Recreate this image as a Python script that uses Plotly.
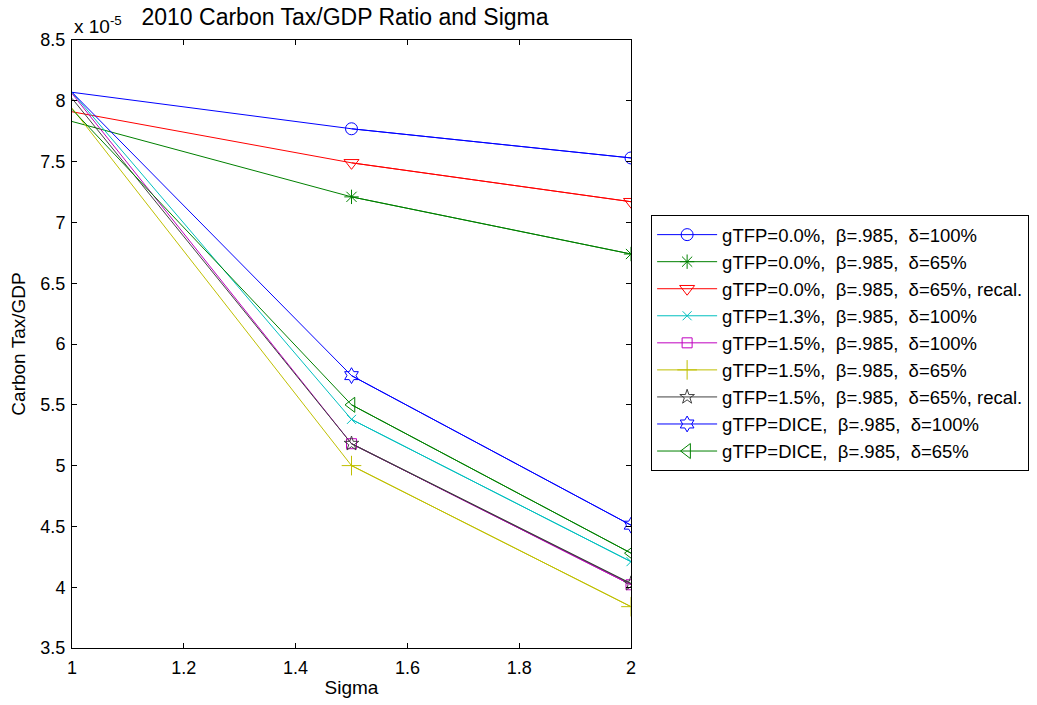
import plotly.graph_objects as go

# Sigma values (x axis)
sigma = [1.0, 1.5, 2.0]

# Carbon Tax/GDP values, in units of 1e-5
names = [
    "gTFP=0.0%,  β=.985,  δ=100%",
    "gTFP=0.0%,  β=.985,  δ=65%",
    "gTFP=0.0%,  β=.985,  δ=65%, recal.",
    "gTFP=1.3%,  β=.985,  δ=100%",
    "gTFP=1.5%,  β=.985,  δ=100%",
    "gTFP=1.5%,  β=.985,  δ=65%",
    "gTFP=1.5%,  β=.985,  δ=65%, recal.",
    "gTFP=DICE,  β=.985,  δ=100%",
    "gTFP=DICE,  β=.985,  δ=65%",
]
g00_b985_d100 = [8.07, 7.77, 7.53]
g00_b985_d65 = [7.83, 7.21, 6.74]
g00_b985_d65_recal = [7.91, 7.49, 7.17]
g13_b985_d100 = [8.07, 5.38, 4.21]
g15_b985_d100 = [8.06, 5.18, 4.02]
g15_b985_d65 = [7.94, 5.00, 3.84]
g15_b985_d65_recal = [8.02, 5.18, 4.03]
gDICE_b985_d100 = [8.07, 5.74, 4.51]
gDICE_b985_d65 = [7.93, 5.50, 4.28]
series = [g00_b985_d100, g00_b985_d65, g00_b985_d65_recal, g13_b985_d100,
          g15_b985_d100, g15_b985_d65, g15_b985_d65_recal, gDICE_b985_d100,
          gDICE_b985_d65]

colors = ["#0000FF", "#008000", "#FF0000", "#00BFBF", "#BF00BF",
          "#BFBF00", "#404040", "#0000FF", "#008000"]
symbols = ["circle-open", "asterisk-open", "triangle-down-open", "x-thin-open",
           "square-open", "cross-thin-open", "star-open", "hexagram-open",
           "triangle-left-open"]
sizes = [12, 12, 13, 9, 10, 14, 11, 12, 13]

yticks = [3.5, 4, 4.5, 5, 5.5, 6, 6.5, 7, 7.5, 8, 8.5]
ytick_labels = ["3.5", "4", "4.5", "5", "5.5", "6", "6.5", "7", "7.5", "8", "8.5"]
xticks = [1, 1.2, 1.4, 1.6, 1.8, 2]
xtick_labels = ["1", "1.2", "1.4", "1.6", "1.8", "2"]

FONT = "Liberation Sans, Arial, sans-serif"

fig = go.Figure()
for i, (nm, ys) in enumerate(zip(names, series)):
    grp = f"g{i}"
    fig.add_trace(go.Scatter(
        x=sigma, y=ys, mode="lines", legendgroup=grp, showlegend=False,
        line=dict(color=colors[i], width=1), hoverinfo="skip"))
    fig.add_trace(go.Scatter(
        x=sigma[1:], y=ys[1:], mode="lines+markers", name=nm, legendgroup=grp,
        line=dict(color=colors[i], width=1),
        marker=dict(symbol=symbols[i], size=sizes[i],
                    line=dict(color=colors[i], width=1), color=colors[i])))

axis_common = dict(showline=True, linecolor="black", linewidth=1, mirror="ticks",
                   ticks="inside", ticklen=5, tickcolor="black", showgrid=False,
                   zeroline=False, tickfont=dict(family=FONT, size=18, color="black"))

fig.update_xaxes(range=[1, 2], tickvals=xticks, ticktext=xtick_labels,
                 ticklabelstandoff=3,
                 title=dict(text="Sigma", font=dict(family=FONT, size=19, color="black"),
                            standoff=4),
                 **axis_common)
fig.update_yaxes(range=[3.5, 8.5], tickvals=yticks, ticktext=ytick_labels,
                 ticklabelstandoff=2,
                 title=dict(text="Carbon Tax/GDP", font=dict(family=FONT, size=19, color="black"),
                            standoff=9),
                 **axis_common)

fig.update_layout(
    width=1037, height=705,
    margin=dict(l=72, r=406, t=40, b=57, autoexpand=False),
    paper_bgcolor="white", plot_bgcolor="white",
    font=dict(family=FONT, color="black"),
    title=dict(text="2010 Carbon Tax/GDP Ratio and Sigma", x=345 / 1037,
               xanchor="center", y=1 - 17 / 705, yanchor="middle",
               font=dict(family=FONT, size=23, color="black")),
    legend=dict(x=1.036, y=0.712, xanchor="left", yanchor="top",
                bordercolor="black", borderwidth=1, bgcolor="white",
                font=dict(family=FONT, size=18.5, color="black"),
                tracegroupgap=0, itemwidth=60),
    annotations=[dict(text="x 10<sup>-5</sup>", xref="paper", yref="paper",
                      x=0, y=1, xanchor="left", yanchor="bottom", yshift=1,
                      showarrow=False, font=dict(family=FONT, size=19, color="black"))],
)

fig.write_html("out.html")
